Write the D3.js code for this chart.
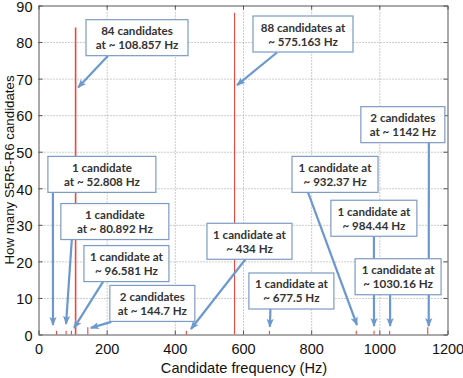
<!DOCTYPE html>
<html>
<head>
<meta charset="utf-8">
<script src="https://cdn.jsdelivr.net/npm/d3@7"></script>
<style>
  body { margin: 0; background: #fff; }
  svg { display: block; }
  .tick text { font-family: "Liberation Sans", Arial, sans-serif; }
</style>
</head>
<body>
<div id="chart"></div>
<script>
// Candidate frequencies (Hz) and how many candidates at each one
const freqs  = [52.808, 80.892, 96.581, 108.857, 144.7, 434, 575.163, 677.5, 932.37, 984.44, 1030.16, 1142];
const counts = [1, 1, 1, 84, 2, 1, 88, 1, 1, 1, 1, 2];

// Callout texts, one per frequency above
const notes = [
    ["1 candidate", "at ~ 52.808 Hz"],
    ["1 candidate", "at ~ 80.892 Hz"],
    ["1 candidate at", "~ 96.581 Hz"],
    ["84 candidates", "at ~ 108.857 Hz"],
    ["2 candidates", "at ~ 144.7 Hz"],
    ["1 candidate at", "~ 434 Hz"],
    ["88 candidates at", "~ 575.163 Hz"],
    ["1 candidate at", "~ 677.5 Hz"],
    ["1 candidate at", "~ 932.37 Hz"],
    ["1 candidate at", "~ 984.44 Hz"],
    ["1 candidate at", "~ 1030.16 Hz"],
    ["2 candidates", "at ~ 1142 Hz"]
];

const xTicks = [0, 200, 400, 600, 800, 1000, 1200];
const yTicks = [0, 10, 20, 30, 40, 50, 60, 70, 80, 90];

// Where each callout box sits (centre in data units), its width, the tail offset
// from the box centre and where the arrow head lands (px from line, count)
const callouts = [
    { bx: 186,  by: 43.8, w: 108, tail: [-49, 18],   tip: [-3.5, 2.6] },
    { bx: 224,  by: 30.9, w: 108, tail: [-43, 17.5], tip: [0, 2.9] },
    { bx: 258,  by: 19.4, w: 85,  tail: [-23, 17.5], tip: [2.6, 1.8] },
    { bx: 289,  by: 81.2, w: 102, tail: [-29, 18],   tip: [2.5, 67.6] },
    { bx: 334,  by: 8.5,  w: 85,  tail: [-41, 18.5], tip: [3, 1.8] },
    { bx: 619,  by: 25.5, w: 85,  tail: [-4, 18],    tip: [4.5, 1.5] },
    { bx: 776,  by: 82.2, w: 100, tail: [-26, 18.5], tip: [2.5, 68.2] },
    { bx: 742,  by: 11.9, w: 85,  tail: [-21, 18],   tip: [0.5, 2.1] },
    { bx: 870,  by: 43.8, w: 86,  tail: [-27, 18],   tip: [0.7, 2.6] },
    { bx: 984,  by: 31.8, w: 86,  tail: [0, 18],     tip: [0, 2.3] },
    { bx: 1055, by: 15.8, w: 86,  tail: [-8, 17.5],  tip: [0.5, 2.3] },
    { bx: 1069, by: 57.4, w: 84,  tail: [26, 17.5],  tip: [1, 2.3] }
];

const W = 463, H = 378;
const margin = { left: 38.5, right: 15.5, top: 5.5, bottom: 43.5 };
const width = W - margin.left - margin.right,
    height = H - margin.top - margin.bottom;

const x = d3.scaleLinear().domain([0, 1200]).range([0, width]);
const y = d3.scaleLinear().domain([0, 90]).range([height, 0]);

const svg = d3.select('#chart').append('svg')
    .attr('width', W)
    .attr('height', H);

svg.append('defs').append('marker')
    .attr('id', 'head')
    .attr('markerUnits', 'userSpaceOnUse')
    .attr('viewBox', '0 0 10 10')
    .attr('refX', 9).attr('refY', 5)
    .attr('markerWidth', 9).attr('markerHeight', 9)
    .attr('orient', 'auto')
    .append('path')
    .attr('d', 'M0,1 L10,5 L0,9 L2.5,5 Z')
    .attr('fill', '#6a98cf');

const g = svg.append('g')
    .attr('transform', 'translate(' + margin.left + ',' + margin.top + ')');

// Dotted grid
g.append('g')
    .attr('class', 'grid')
    .attr('transform', 'translate(0,' + height + ')')
    .call(d3.axisBottom(x).tickValues(xTicks.slice(1, -1)).tickSize(-height).tickFormat(''))
    .call(s => s.select('.domain').remove());
g.append('g')
    .attr('class', 'grid')
    .call(d3.axisLeft(y).tickValues(yTicks.slice(1, -1)).tickSize(-width).tickFormat(''))
    .call(s => s.select('.domain').remove());

// Axes, ticks pointing in
const xAxis = g.append('g')
    .attr('transform', 'translate(0,' + height + ')')
    .call(d3.axisBottom(x).tickValues(xTicks).tickFormat(d3.format('d'))
        .tickSizeInner(-4).tickSizeOuter(0).tickPadding(9));
const yAxis = g.append('g')
    .call(d3.axisLeft(y).tickValues(yTicks).tickSizeInner(-4).tickSizeOuter(0).tickPadding(6));
g.append('g')
    .call(d3.axisTop(x).tickValues(xTicks).tickSizeInner(-4).tickSizeOuter(0).tickFormat(''));
g.append('g')
    .attr('transform', 'translate(' + width + ',0)')
    .call(d3.axisRight(y).tickValues(yTicks).tickSizeInner(-4).tickSizeOuter(0).tickFormat(''));
g.selectAll('.domain, .tick line').attr('stroke', '#555');
g.selectAll('.grid line')
    .attr('stroke', '#9a9a9a')
    .attr('stroke-width', 1)
    .attr('stroke-dasharray', '1,2');
[xAxis, yAxis].forEach(a => a.selectAll('text')
    .attr('font-size', 14.5)
    .attr('fill', '#111'));
yAxis.selectAll('text').attr('dy', '0.4em');

// Frequency lines
g.selectAll('.bar')
    .data(freqs)
    .enter().append('line')
    .attr('class', 'bar')
    .attr('x1', d => x(d))
    .attr('x2', d => x(d))
    .attr('y1', y(0))
    .attr('y2', (d, i) => y(counts[i]))
    .attr('stroke', '#f0463e')
    .attr('stroke-width', (d, i) => i == 3 ? 1.6 : 1.1);

// Arrows first, boxes on top of them
const ann = g.selectAll('.note')
    .data(callouts)
    .enter().append('g')
    .attr('class', 'note');

ann.append('line')
    .attr('x1', d => x(d.bx) + d.tail[0])
    .attr('y1', d => y(d.by) + d.tail[1])
    .attr('x2', (d, i) => x(freqs[i]) + d.tip[0])
    .attr('y2', d => y(d.tip[1]))
    .attr('stroke', '#6a98cf')
    .attr('stroke-width', 2.2)
    .attr('marker-end', 'url(#head)');

const boxes = g.selectAll('.box')
    .data(callouts)
    .enter().append('g')
    .attr('class', 'box')
    .attr('transform', d => 'translate(' + x(d.bx) + ',' + y(d.by) + ')');

boxes.append('rect')
    .attr('x', d => -d.w / 2)
    .attr('y', -18)
    .attr('width', d => d.w)
    .attr('height', 36)
    .attr('fill', '#fff')
    .attr('stroke', '#7d9bc4')
    .attr('stroke-width', 1.2);

boxes.append('text')
    .attr('text-anchor', 'middle')
    .attr('font-family', 'Lato, "Open Sans", sans-serif')
    .attr('font-weight', 'bold')
    .attr('font-size', 11.6)
    .attr('fill', '#333')
    .selectAll('tspan')
    .data((d, i) => notes[i])
    .enter().append('tspan')
    .attr('x', 0)
    .attr('y', (d, j) => j == 0 ? -2.5 : 11.5)
    .text(d => d);

// Axis titles
svg.append('text')
    .attr('x', margin.left + width / 2 + 1)
    .attr('y', 373)
    .attr('text-anchor', 'middle')
    .attr('font-family', '"Liberation Sans", Arial, sans-serif')
    .attr('font-size', 14.6)
    .attr('fill', '#111')
    .text('Candidate frequency (Hz)');

svg.append('text')
    .attr('transform', 'translate(13.5,' + (margin.top + height / 2) + ') rotate(-90)')
    .attr('text-anchor', 'middle')
    .attr('font-family', '"Liberation Sans", Arial, sans-serif')
    .attr('font-size', 13.3)
    .attr('fill', '#111')
    .text('How many S5R5-R6 candidates');
</script>
</body>
</html>
